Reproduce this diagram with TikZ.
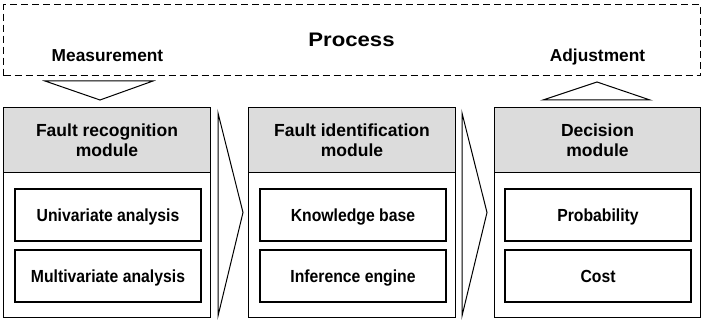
\documentclass[tikz,border=0pt]{standalone}
\usepackage{fontspec}
\setmainfont{Liberation Sans}
\newfontfamily\itemfont{Liberation Sans}[FakeStretch=0.9]
\newfontfamily\titlefont{Liberation Sans}[FakeStretch=1.13]
\usetikzlibrary{calc}
\definecolor{headgray}{HTML}{DCDCDC}
\tikzset{
  x=1pt, y=-1pt,
  thinline/.style={line width=1pt, draw=black},
  module/.style={thinline, anchor=north west, minimum width=207pt, minimum height=210pt, inner sep=0pt},
  header/.style={thinline, fill=headgray, anchor=north west, minimum width=207pt, minimum height=65pt, inner sep=0pt,
    align=center, font=\bfseries\fontsize{17.5}{20}\selectfont},
  item/.style={draw=black, line width=2pt, anchor=north west, minimum width=186pt, minimum height=52pt, inner sep=0pt,
    text height=12.6pt, text depth=0pt, font=\itemfont\bfseries\fontsize{17.5}{20}\selectfont},
  label/.style={font=\bfseries\fontsize{17.3}{20}\selectfont, inner sep=0pt, anchor=base},
  chevron/.style={thinline, line join=miter},
}
\begin{document}
\begin{tikzpicture}
\useasboundingbox (0,0) rectangle (701,320);

% process frame
\node[draw=black, line width=1.1pt, dash pattern=on 7pt off 4pt, anchor=north west,
      minimum width=697pt, minimum height=71pt, inner sep=0pt] (process) at (3,4) {};
\node[font=\titlefont\bfseries\fontsize{19.6}{24}\selectfont, inner sep=0pt, anchor=base] (ptitle) at (351.5,47) {Process};
\node[label] (meas) at (107.5,62) {Measurement};
\node[label] (adj) at (597.5,62) {Adjustment};

% modules
\node[module] (m1) at (3,107) {};
\node[header] (h1) at (3,107) {Fault recognition\\module};
\node[item] (u1) at (14,188) {Univariate analysis};
\node[item] (u2) at (14,249) {Multivariate analysis};

\node[module] (m2) at (248,107) {};
\node[header] (h2) at (248,107) {Fault identification\\module};
\node[item] (k1) at (259,188) {Knowledge base};
\node[item] (k2) at (259,249) {Inference engine};

\node[module, minimum width=206pt] (m3) at (494,107) {};
\node[header, minimum width=206pt] (h3) at (494,107) {Decision\\module};
\node[item] (d1) at (504,188) {Probability};
\node[item] (d2) at (504,249) {Cost};

% measurement arrow into the first module
\draw[thinline] ($(m1.north west)+(42,-26)$) -- ($(m1.north west)+(150,-26)$)
  -- ($(m1.north west)+(97,-7)$) -- cycle;
% adjustment arrow from the decision module
\draw[thinline] ($(m3.north west)+(49,-7)$) -- ($(m3.north west)+(156,-7)$)
  -- ($(m3.north west)+(103,-25)$) -- cycle;

% flow chevrons between modules
\draw[chevron] ($(m1.north east)+(7,6)$) -- ($(m1.east)+(32,0)$) -- ($(m1.south east)+(7,-2)$) -- cycle;
\draw[chevron] ($(m2.north east)+(6,6)$) -- ($(m2.east)+(31,0)$) -- ($(m2.south east)+(6,-2)$) -- cycle;
\end{tikzpicture}
\end{document}
